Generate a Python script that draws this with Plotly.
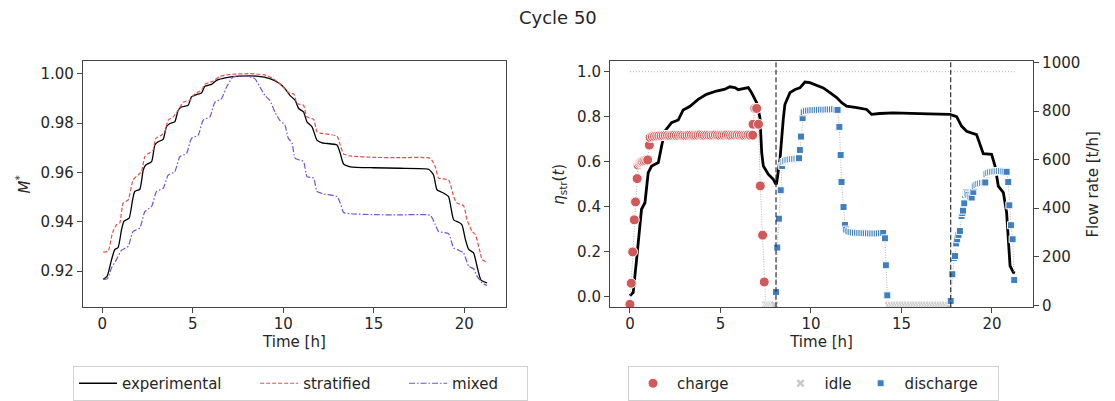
import plotly.graph_objects as go

# ---------------- Left panel: M* vs time ----------------
exp_t = [0.06, 0.28, 0.52, 0.7, 0.88, 1.07, 1.2, 1.49, 1.68, 1.8, 2.08, 2.27, 2.41, 2.73, 2.91, 3.09, 3.37,
         3.55, 3.74, 4.01, 4.2, 4.38, 4.75, 4.93, 5.21, 5.49, 5.67, 6.04, 6.32, 6.87, 7.6, 8.53, 9.26, 9.8,
         10.09, 10.37, 10.66, 10.85, 11.12, 11.31, 11.59, 11.86, 12.14, 12.97, 13.15, 13.33, 13.7, 14.99,
         16.46, 18.03, 18.3, 18.49, 18.86, 19.13, 19.41, 19.69, 19.87, 20.06, 20.24, 20.51, 20.7, 20.92, 21.25]
exp_m = [0.9167, 0.918, 0.9247, 0.9288, 0.9295, 0.9368, 0.9402, 0.9415, 0.9489, 0.9523, 0.9532, 0.961, 0.963,
         0.9644, 0.9711, 0.9724, 0.9734, 0.9785, 0.9798, 0.9805, 0.9852, 0.9865, 0.9872, 0.9906, 0.9915, 0.9922,
         0.9949, 0.9957, 0.9973, 0.9984, 0.999, 0.999, 0.998, 0.996, 0.994, 0.9912, 0.9892, 0.9859, 0.9845,
         0.9805, 0.9785, 0.9731, 0.972, 0.9711, 0.9677, 0.9634, 0.9623, 0.9619, 0.9617, 0.9613, 0.959, 0.953,
         0.9516, 0.9502, 0.9408, 0.9398, 0.9388, 0.9328, 0.9288, 0.9274, 0.922, 0.9164, 0.9153]

strat_t = [0.06, 0.33, 0.57, 0.79, 0.97, 1.16, 1.44, 1.71, 1.99, 2.17, 2.36, 2.63, 2.82, 2.96, 3.28, 3.46, 3.65,
           3.92, 4.2, 4.48, 4.85, 5.12, 5.49, 5.67, 6.13, 6.5, 7.06, 8.16, 8.9, 9.45, 10.0, 10.37, 10.57, 10.76,
           11.12, 11.31, 11.68, 11.86, 12.14, 12.97, 13.15, 13.33, 13.7, 14.99, 16.46, 18.12, 18.4, 18.58, 19.13,
           19.41, 19.6, 19.96, 20.15, 20.43, 20.61, 20.88, 20.98, 21.25]
strat_m = [0.9277, 0.9281, 0.9355, 0.9388, 0.9395, 0.9476, 0.9489, 0.957, 0.959, 0.9603, 0.9664, 0.968, 0.9691,
           0.9738, 0.9751, 0.9765, 0.9812, 0.9825, 0.9852, 0.9885, 0.9892, 0.9919, 0.9933, 0.9957, 0.997, 0.9989,
           0.9997, 1.0, 0.9996, 0.998, 0.9946, 0.9919, 0.9919, 0.9879, 0.9872, 0.9825, 0.9815, 0.9765, 0.9758,
           0.9747, 0.9711, 0.9675, 0.9667, 0.9661, 0.966, 0.9657, 0.9623, 0.9577, 0.957, 0.9502, 0.9476, 0.9465,
           0.9408, 0.9361, 0.9348, 0.9274, 0.9247, 0.9236]

mixed_t = [0.06, 0.28, 0.52, 0.79, 1.07, 1.44, 1.71, 2.08, 2.36, 2.73, 3.0, 3.37, 3.65, 4.01, 4.29, 4.66, 4.93,
           5.3, 5.58, 5.95, 6.23, 6.59, 6.87, 7.24, 7.97, 8.43, 8.71, 8.99, 9.26, 9.54, 9.8, 10.09, 10.28, 10.48,
           10.66, 11.12, 11.31, 11.68, 11.86, 12.23, 12.97, 13.15, 13.33, 13.7, 14.99, 16.46, 18.12, 18.4, 18.58,
           19.13, 19.41, 19.69, 19.96, 20.24, 20.51, 20.7, 20.98, 21.25]
mixed_m = [0.9167, 0.9169, 0.9214, 0.9247, 0.9285, 0.9301, 0.9361, 0.9375, 0.9442, 0.9462, 0.9523, 0.9536,
           0.959, 0.9603, 0.9664, 0.9677, 0.9738, 0.9751, 0.9812, 0.9825, 0.9885, 0.9899, 0.9946, 0.9987, 0.999,
           0.998, 0.9946, 0.9912, 0.9892, 0.9845, 0.9812, 0.9792, 0.9738, 0.972, 0.9657, 0.9644, 0.9583, 0.9577,
           0.9523, 0.9513, 0.9502, 0.9476, 0.9438, 0.9433, 0.9429, 0.9428, 0.9426, 0.9388, 0.9361, 0.9352, 0.9294,
           0.9285, 0.9274, 0.922, 0.921, 0.918, 0.9153, 0.9142]

# ---------------- Right panel: efficiency and flow rate ----------------
eta_t = [0.0, 0.18, 0.37, 0.55, 0.64, 0.83, 1.01, 1.2, 1.57, 1.75, 1.93, 2.3, 2.67, 2.94, 3.3, 3.77, 4.23, 4.78,
         5.25, 5.52, 5.8, 5.98, 6.26, 6.54, 6.72, 7.0, 7.18, 7.28, 7.37, 7.65, 7.92, 8.07, 8.1, 8.29, 8.47, 8.56,
         8.84, 9.12, 9.39, 9.67, 9.94, 10.31, 10.68, 11.05, 11.42, 11.7, 11.97, 12.53, 13.08, 13.35, 13.8, 14.55,
         15.3, 16.5, 17.68, 18.05, 18.32, 18.6, 19.15, 19.34, 19.52, 19.98, 20.17, 20.35, 20.63, 20.81, 20.9,
         21.0, 21.18, 21.27]
eta_v = [0.003, 0.018, 0.166, 0.314, 0.388, 0.417, 0.551, 0.58, 0.596, 0.669, 0.736, 0.773, 0.785, 0.83, 0.845,
         0.877, 0.899, 0.914, 0.922, 0.933, 0.929, 0.92, 0.923, 0.929, 0.907, 0.862, 0.796, 0.64, 0.58, 0.543,
         0.521, 0.499, 0.503, 0.61, 0.788, 0.854, 0.907, 0.921, 0.928, 0.954, 0.951, 0.939, 0.928, 0.907, 0.885,
         0.862, 0.847, 0.84, 0.832, 0.81, 0.814, 0.817, 0.814, 0.812, 0.81, 0.80, 0.758, 0.735, 0.72, 0.677,
         0.635, 0.632, 0.58, 0.491, 0.462, 0.373, 0.24, 0.136, 0.107, 0.104]
eta_ref = 1.0

charge_t = [0.0, 0.07, 0.15, 0.24, 0.31, 0.4, 0.45, 0.52, 0.58, 0.64, 0.7, 0.78, 0.88, 0.98, 1.07,
            1.12, 1.24, 1.36, 1.48, 1.6, 1.72, 1.84, 1.96, 2.08, 2.2, 2.32, 2.44, 2.56, 2.68, 2.8, 2.92,
            3.04, 3.16, 3.28, 3.4, 3.52, 3.64, 3.76, 3.88, 4.0, 4.12, 4.24, 4.36, 4.48, 4.6, 4.72, 4.84,
            4.96, 5.08, 5.2, 5.32, 5.44, 5.56, 5.68, 5.8, 5.92, 6.04, 6.16, 6.28, 6.4, 6.52, 6.64, 6.78,
            6.8, 6.9, 7.0, 7.1, 7.2, 7.33, 7.42]
charge_f = [4, 91, 220, 352, 426, 522, 578, 585, 588, 590, 592, 594, 596, 599, 660,
            691, 694, 696, 697, 698, 698, 699, 700, 700, 699, 700, 701, 700, 700, 701, 700,
            699, 700, 701, 701, 700, 700, 701, 702, 701, 700, 701, 701, 700, 701, 702, 701,
            700, 701, 701, 702, 701, 700, 701, 701, 702, 701, 701, 700, 701, 702, 701, 701,
            746, 811, 811, 746, 492, 289, 96]

idle_t = [7.5, 7.6, 7.7, 7.8, 7.9, 8.0,
          14.3, 14.45, 14.6, 14.75, 14.9, 15.05, 15.2, 15.35, 15.5, 15.65, 15.8, 15.95, 16.1, 16.25,
          16.4, 16.55, 16.7, 16.85, 17.0, 17.15, 17.3, 17.45, 17.6]
idle_f = [2, 1, 0, 0, 0, 1,
          0, 0, 0, 0, 0, 0, 0, 0, 0, 0, 0, 0, 0, 0,
          0, 0, 0, 0, 0, 0, 0, 0, 0]

discharge_t = [8.07, 8.14, 8.23, 8.33, 8.41, 8.48, 8.56, 8.66, 8.76, 8.86, 8.96, 9.06, 9.16, 9.26, 9.34,
               9.39, 9.45, 9.54, 9.6, 9.72, 9.84, 9.96, 10.08, 10.2, 10.32, 10.44, 10.56, 10.68, 10.8, 10.92,
               11.04, 11.16, 11.28, 11.4, 11.47, 11.57, 11.64, 11.69, 11.8, 11.88, 11.95, 12.07, 12.19, 12.31,
               12.43, 12.55, 12.67, 12.79, 12.91, 13.03, 13.15, 13.27, 13.39, 13.51, 13.63, 13.75, 13.87, 13.99,
               14.09, 14.14, 14.22,
               17.72, 17.81, 17.9, 17.96, 18.02, 18.08, 18.15, 18.23, 18.32, 18.36, 18.4, 18.47, 18.52, 18.56,
               18.62, 18.7, 18.8, 18.88, 18.97, 19.05, 19.15, 19.25, 19.35, 19.45, 19.55, 19.63, 19.7, 19.8,
               19.9, 20.0, 20.1, 20.2, 20.3, 20.4, 20.5, 20.6, 20.7, 20.81, 20.9, 20.96, 21.05, 21.14, 21.23]
discharge_f = [55, 238, 357, 474, 574, 590, 595, 598, 600, 601, 602, 603, 604, 604, 606,
               640, 695, 771, 795, 800, 802, 803, 804, 804, 805, 805, 806, 806, 806, 807,
               807, 807, 808, 806, 805, 735, 619, 508, 405, 331, 312, 305, 302, 300,
               299, 299, 298, 298, 297, 297, 297, 296, 296, 296, 296, 296, 297, 298,
               276, 165, 41,
               18, 128, 195, 203, 255, 272, 290, 306, 368, 380, 390, 420, 455, 465,
               460, 455, 448, 444, 467, 490, 496, 500, 502, 504, 505, 506, 540, 545,
               548, 550, 551, 552, 552, 553, 553, 552, 551, 550, 508, 412, 330, 272, 104]

mode_switch_t = [8.07, 17.72]

# ---------------- styling ----------------
FONT = "DejaVu Sans, Verdana, sans-serif"
FS = 15
TXT = "#262626"
AX = "#444444"
C_EXP, C_STRAT, C_MIX = "#000000", "#e0504a", "#7a4fd0"
C_CH, C_ID, C_DIS = "#d05a5a", "#cccccc", "#3f7fbf"
NB = "\u00a0"

fig = go.Figure()

fig.add_trace(go.Scatter(x=exp_t, y=exp_m, mode="lines", name="experimental" + NB * 6,
                         line=dict(color=C_EXP, width=1.3, shape="spline", smoothing=0.5),
                         xaxis="x", yaxis="y", legend="legend"))
fig.add_trace(go.Scatter(x=strat_t, y=strat_m, mode="lines", name="stratified" + NB * 6,
                         line=dict(color=C_STRAT, width=1.2, dash="4px,2px", shape="spline", smoothing=0.5),
                         xaxis="x", yaxis="y", legend="legend"))
fig.add_trace(go.Scatter(x=mixed_t, y=mixed_m, mode="lines", name="mixed" + NB * 5,
                         line=dict(color=C_MIX, width=1.2, dash="6px,2px,1.5px,2px", shape="spline", smoothing=0.5),
                         xaxis="x", yaxis="y", legend="legend"))

# reference line at eta = 1
fig.add_trace(go.Scatter(x=[eta_t[0], eta_t[-1]], y=[eta_ref, eta_ref], mode="lines", showlegend=False,
                         line=dict(color="#b0b0b0", width=1, dash="1px,2px"), xaxis="x2", yaxis="y2"))

# flow connecting dotted line (all modes in time order)
all_pts = sorted(list(zip(charge_t, charge_f)) + list(zip(idle_t, idle_f)) + list(zip(discharge_t, discharge_f)))
fig.add_trace(go.Scatter(x=[p[0] for p in all_pts], y=[p[1] for p in all_pts], mode="lines", showlegend=False,
                         line=dict(color="#b5b5b5", width=1, dash="1px,1.5px"), xaxis="x2", yaxis="y3"))

fig.add_trace(go.Scatter(x=charge_t, y=charge_f, mode="markers", name="charge" + NB * 9,
                         marker=dict(symbol="circle", size=10, color=C_CH, line=dict(color="white", width=1)),
                         xaxis="x2", yaxis="y3", legend="legend2"))
fig.add_trace(go.Scatter(x=idle_t, y=idle_f, mode="markers", name="idle",
                         marker=dict(symbol="x", size=8, color=C_ID, line=dict(color="white", width=0.8)),
                         xaxis="x2", yaxis="y3", legend="legend2"))
fig.add_trace(go.Scatter(x=discharge_t, y=discharge_f, mode="markers", name="discharge" + NB * 3,
                         marker=dict(symbol="square", size=7, color=C_DIS, line=dict(color="white", width=1)),
                         xaxis="x2", yaxis="y3", legend="legend2"))

fig.add_trace(go.Scatter(x=eta_t, y=eta_v, mode="lines", showlegend=False,
                         line=dict(color="#000000", width=2.8), xaxis="x2", yaxis="y2"))

for ts in mode_switch_t:
    fig.add_shape(type="line", xref="x2", yref="y2 domain", x0=ts, x1=ts, y0=0, y1=1,
                  line=dict(color="#333333", width=1.2, dash="5px,2.5px"))

ydom = [0.2319, 0.8466]
axis_common = dict(showline=True, linecolor=AX, linewidth=1.1, ticks="outside", ticklen=5, tickwidth=1.1,
                   tickcolor=AX, showgrid=False, zeroline=False, automargin=False,
                   tickfont=dict(family=FONT, size=FS, color=TXT))
title_font = dict(family=FONT, size=FS, color=TXT)
leg_common = dict(orientation="h", xanchor="left", y=1 - 384 / 401, yanchor="middle",
                  bordercolor="#d0d0d0", borderwidth=1, bgcolor="white",
                  font=dict(family=FONT, size=FS, color=TXT), itemwidth=38)

fig.update_layout(
    width=1115, height=401, margin=dict(l=0, r=0, t=0, b=0),
    template="none", paper_bgcolor="white", plot_bgcolor="white",
    font=dict(family=FONT, size=FS, color=TXT),
    xaxis=dict(domain=[0.0744, 0.4538], range=[-1.06, 22.3], tickvals=[0, 5, 10, 15, 20], mirror=True,
               anchor="y", ticklabelstandoff=-2, title=dict(text="Time [h]", font=title_font, standoff=0),
               **axis_common),
    yaxis=dict(domain=ydom, range=[0.9054, 1.005], tickvals=[0.92, 0.94, 0.96, 0.98, 1.00], tickformat=".2f",
               mirror=True, anchor="x", title=dict(text="<i>M</i><sup>*</sup>", font=title_font, standoff=6),
               **axis_common),
    xaxis2=dict(domain=[0.5471, 0.9265], range=[-1.1, 22.27], tickvals=[0, 5, 10, 15, 20], mirror=True,
                anchor="y2", ticklabelstandoff=-2, title=dict(text="Time [h]", font=title_font, standoff=0),
                **axis_common),
    yaxis2=dict(domain=ydom, range=[-0.048, 1.046], tickvals=[0, 0.2, 0.4, 0.6, 0.8, 1.0], tickformat=".1f",
                anchor="x2", title=dict(text="<i>η</i><sub>str</sub>(<i>t</i>)", font=title_font, standoff=8),
                **axis_common),
    yaxis3=dict(domain=ydom, range=[-8, 1005], tickvals=[0, 200, 400, 600, 800, 1000], overlaying="y2",
                side="right", anchor="x2", title=dict(text="Flow rate [t/h]", font=title_font, standoff=8),
                **axis_common),
    legend=dict(x=73 / 1115, **leg_common),
    legend2=dict(x=628 / 1115, **leg_common),
    annotations=[dict(text="Cycle 50", x=0.5, y=1 - 18 / 401, xref="paper", yref="paper", showarrow=False,
                      xanchor="center", yanchor="middle", font=dict(size=18, color=TXT, family=FONT))],
)

fig.write_html("out.html", config={"displayModeBar": False},
               post_script="document.body.style.margin='0';document.body.style.padding='0';")
